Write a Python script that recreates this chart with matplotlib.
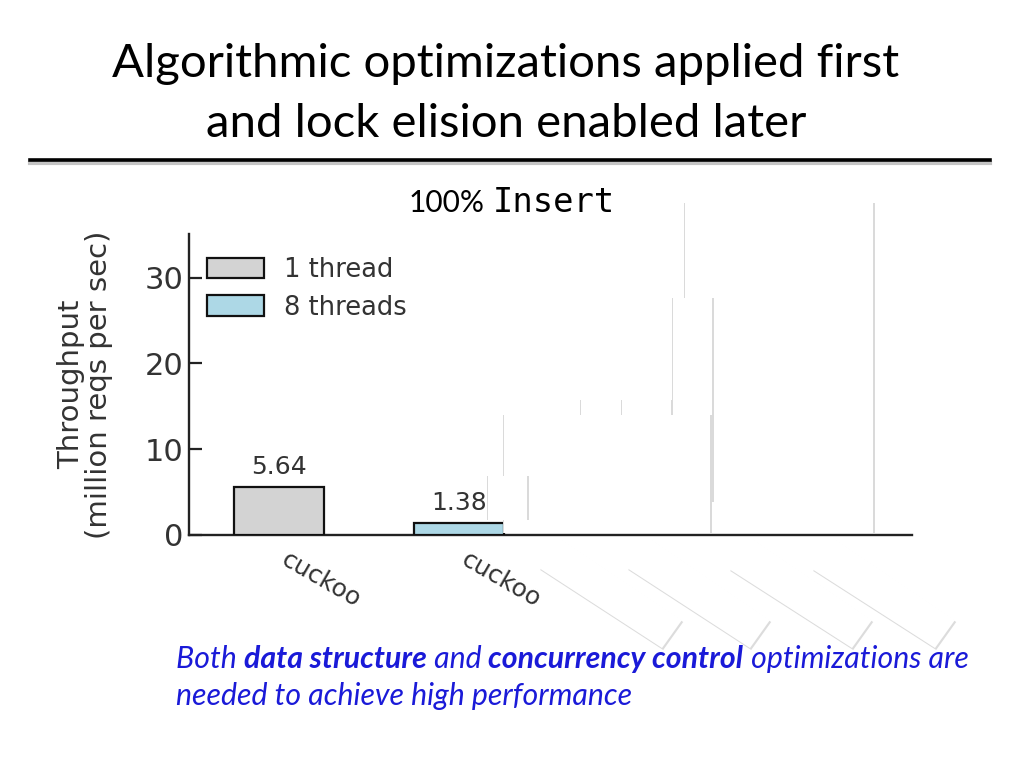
import matplotlib
matplotlib.use("Agg")
import matplotlib.pyplot as plt
from matplotlib.patches import Rectangle, Polygon
import matplotlib.transforms as mtransforms

# ---- data ----
title_lines = ["Algorithmic optimizations applied first", "and lock elision enabled later"]
series_names = ["1 thread", "8 threads"]
bar_slots = [0, 2]
bar_values = [5.64, 1.38]
bar_series = [0, 1]
bar_colors = ["#d3d3d3", "#add8e6"]
tick_labels = ["cuckoo", "cuckoo"]
yticks = [0, 10, 20, 30]

W, H = 1024, 768
fig = plt.figure(figsize=(W / 100, H / 100), dpi=100)
fig.patch.set_facecolor("white")


def F(x, y):
    return (x / W, 1 - y / H)


# ---- title ----
tf = ["Lato", "DejaVu Sans"]
fig.text(*F(506, 77), title_lines[0], ha="center", va="baseline", fontsize=34, family=tf, color="black")
fig.text(*F(506, 137), title_lines[1], ha="center", va="baseline", fontsize=34, family=tf, color="black")

# rule with soft shadow
fig.add_artist(plt.Line2D([30 / W, 990 / W], [1 - 163 / H, 1 - 163 / H], color="#c4c4c4", lw=3, transform=fig.transFigure))
fig.add_artist(plt.Line2D([30 / W, 990 / W], [1 - 160 / H, 1 - 160 / H], color="black", lw=2.6, transform=fig.transFigure))

# subtitle
fig.text(*F(485, 212), "100%", ha="right", va="baseline", fontsize=21.5, family=tf)
fig.text(*F(493, 212), "Insert", ha="left", va="baseline", fontsize=24.3, family=["DejaVu Sans Mono"])

# ---- chart ----
ax = fig.add_axes([189 / W, 1 - 535 / H, (912 - 189) / W, (535 - 234) / H])
ax.set_xlim(-1.0, 7.03)
ax.set_ylim(0, 35.1)
for s in ["top", "right"]:
    ax.spines[s].set_visible(False)
for s in ["left", "bottom"]:
    ax.spines[s].set_linewidth(1.7)
    ax.spines[s].set_color("#222222")

handles = {}
for slot, val, si in zip(bar_slots, bar_values, bar_series):
    b = ax.bar(slot, val, width=1.0, color=bar_colors[si], edgecolor="#111111", linewidth=1.6,
               label=series_names[si], zorder=3)
    handles[si] = b
    ax.text(slot, val + 0.9, f"{val:.2f}", ha="center", va="bottom", fontsize=18, color="#333333")

ax.set_yticks(yticks)
ax.set_yticklabels([str(v) for v in yticks], fontsize=22, color="#333333")
ax.tick_params(axis="y", direction="in", length=9, width=1.6, pad=4, colors="#222222", labelcolor="#333333")
ax.set_xticks(bar_slots)
ax.set_xticklabels(tick_labels, rotation=-30, ha="left", rotation_mode="anchor", fontsize=18, color="#333333")
ax.tick_params(axis="x", length=0, pad=9)
off = mtransforms.ScaledTranslation(10 / 100, 0, fig.dpi_scale_trans)
for lab in ax.get_xticklabels():
    lab.set_transform(lab.get_transform() + off)
ax.set_ylabel("Throughput\n(million reqs per sec)", fontsize=21, color="#333333", labelpad=23, linespacing=1.0)

leg = ax.legend([handles[0], handles[1]], series_names, loc="upper left", frameon=False,
                fontsize=18.5, handlelength=2.2, handleheight=0.85, borderaxespad=0.2,
                bbox_to_anchor=(0.004, 0.975), labelspacing=0.45, handletextpad=0.8)
for t in leg.get_texts():
    t.set_color("#333333")

# ---- occluding white shapes (slide build boxes) ----
shadow = "#dadada"


def box(x0, y0, x1, y1):
    fig.add_artist(Rectangle(F(x0 - 1.5, y1), (x1 - x0 + 3.5) / W, (y1 - y0) / H, transform=fig.transFigure,
                             facecolor=shadow, edgecolor="none", zorder=10))
    fig.add_artist(Rectangle(F(x0, y1), (x1 - x0) / W, (y1 - y0) / H, transform=fig.transFigure,
                             facecolor="white", edgecolor="none", zorder=10))


def rbox(pts):
    fig.add_artist(Polygon([F(x + 1.2, y + 2.0) for x, y in pts], closed=True, transform=fig.transFigure,
                           facecolor="#dcdcdc", edgecolor="none", zorder=10))
    fig.add_artist(Polygon([F(x, y) for x, y in pts], closed=True, transform=fig.transFigure,
                           facecolor="white", edgecolor="none", zorder=10))


box(685, 203, 873, 533)
box(581, 400, 700, 533)
box(622, 400, 700, 533)
box(672, 400, 700, 533)
box(673, 298, 712, 502)
box(504, 415, 710, 533)
box(488, 476, 527, 520)

rbox([(558, 537), (682, 620), (662, 648), (539, 568)])
rbox([(648, 537), (770, 620), (750, 648), (627, 568)])
rbox([(750, 537), (872, 620), (852, 648), (729, 569)])
rbox([(832, 537), (955, 620), (935, 648), (812, 569)])

# ---- bottom note ----
blue = "#1a1ad8"
fig.canvas.draw()
r = fig.canvas.get_renderer()


def line(parts, x, y, size=21.8):
    cx = x
    for txt, bold in parts:
        t = fig.text(*F(cx, y), txt, ha="left", va="baseline", fontsize=size, family=tf,
                     style="italic", weight="bold" if bold else "normal", color=blue, zorder=12)
        bb = t.get_window_extent(renderer=r)
        cx += bb.width


line([("Both ", False), ("data structure", True), (" and ", False), ("concurrency control", True),
      (" optimizations are", False)], 176, 668)
line([("needed to achieve high performance", False)], 176, 705)

fig.savefig("out.png", dpi=100, facecolor="white")
